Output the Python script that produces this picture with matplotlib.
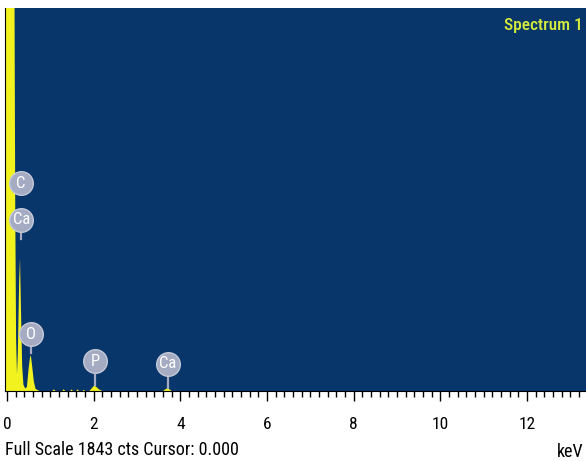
import matplotlib.pyplot as plt
from matplotlib.ticker import MultipleLocator

FONT = ["Liberation Sans Narrow", "Roboto Condensed", "Liberation Sans", "DejaVu Sans"]
plt.rcParams["font.family"] = FONT

BG = "#08356a"
TRACE = "#f2f21e"
MARKER = "#a4abc2"

FULL_SCALE = 1843

# spectrum trace (keV, counts)
energy = [-0.05, 0.00, 0.05, 0.10, 0.14, 0.17, 0.19, 0.21, 0.23, 0.25,
          0.28, 0.30, 0.32, 0.35, 0.38, 0.42, 0.46, 0.50, 0.53, 0.55,
          0.58, 0.62, 0.66, 0.75, 1.05, 1.08, 1.12, 1.28, 1.31, 1.34,
          1.46, 1.49, 1.52, 1.60, 1.63, 1.66, 1.74, 1.77, 1.80, 1.90,
          1.96, 2.01, 2.06, 2.12, 2.20, 3.60, 3.66, 3.70, 3.75, 3.80,
          8.00, 13.5]
counts = [2600, 2600, 2600, 2600, 2600, 2100, 900, 250, 80, 180,
          520, 640, 420, 120, 30, 12, 20, 110, 160, 173,
          120, 45, 10, 0, 0, 8, 0, 0, 9, 0,
          0, 8, 0, 0, 8, 0, 0, 6, 0, 0,
          14, 26, 20, 8, 0, 0, 9, 14, 8, 0,
          0, 0]

# element markers: label, energy, circle height, stem bottom
labels = ["C", "Ca", "O", "P", "Ca"]
label_e = [0.32, 0.33, 0.56, 2.03, 3.71]
label_y = [1000, 823, 274, 144, 130]
stem_bottom = [None, 730, 185, 28, 16]

fig = plt.figure(figsize=(5.86, 4.61), dpi=100)
ax = fig.add_axes([5 / 586, 70 / 461, 581 / 586, 383 / 461])
ax.set_facecolor(BG)

ax.fill_between(energy, counts, 0, color=TRACE, linewidth=0)

for name, e, y, yb in zip(labels, label_e, label_y, stem_bottom):
    if yb is not None:
        ax.plot([e, e], [y, yb], color=MARKER, linewidth=1.6, zorder=3)
    ax.plot(e, y, "o", markersize=17, color=MARKER, markeredgecolor="#c4c9d8",
            markeredgewidth=1, zorder=4)
    ax.text(e, y, name, ha="center", va="center", color="white", fontsize=12, zorder=5)

ax.set_xlim(-0.046, 13.36)
ax.set_ylim(0, FULL_SCALE)

ax.xaxis.set_major_locator(MultipleLocator(2))
ax.xaxis.set_minor_locator(MultipleLocator(0.2))
ax.tick_params(axis="x", which="major", direction="out", length=7, width=1,
               color="black", labelsize=12.5, pad=12)
ax.tick_params(axis="x", which="minor", direction="out", length=4, width=1, color="black")
ax.set_yticks([])
for side in ["top", "right"]:
    ax.spines[side].set_visible(False)
ax.spines["bottom"].set_color("black")
ax.spines["left"].set_color("black")

ax.text(0.995, 0.975, "Spectrum 1", transform=ax.transAxes, ha="right", va="top",
        color="#d6ec3c", fontsize=12.5, fontweight="medium")

fig.text(5 / 586, 1 - 450 / 461, "Full Scale 1843 cts Cursor: 0.000",
         ha="left", va="center", fontsize=13)
fig.text(584 / 586, 1 - 452 / 461, "keV", ha="right", va="center", fontsize=13)

fig.savefig("out.png", dpi=100, facecolor="white")
